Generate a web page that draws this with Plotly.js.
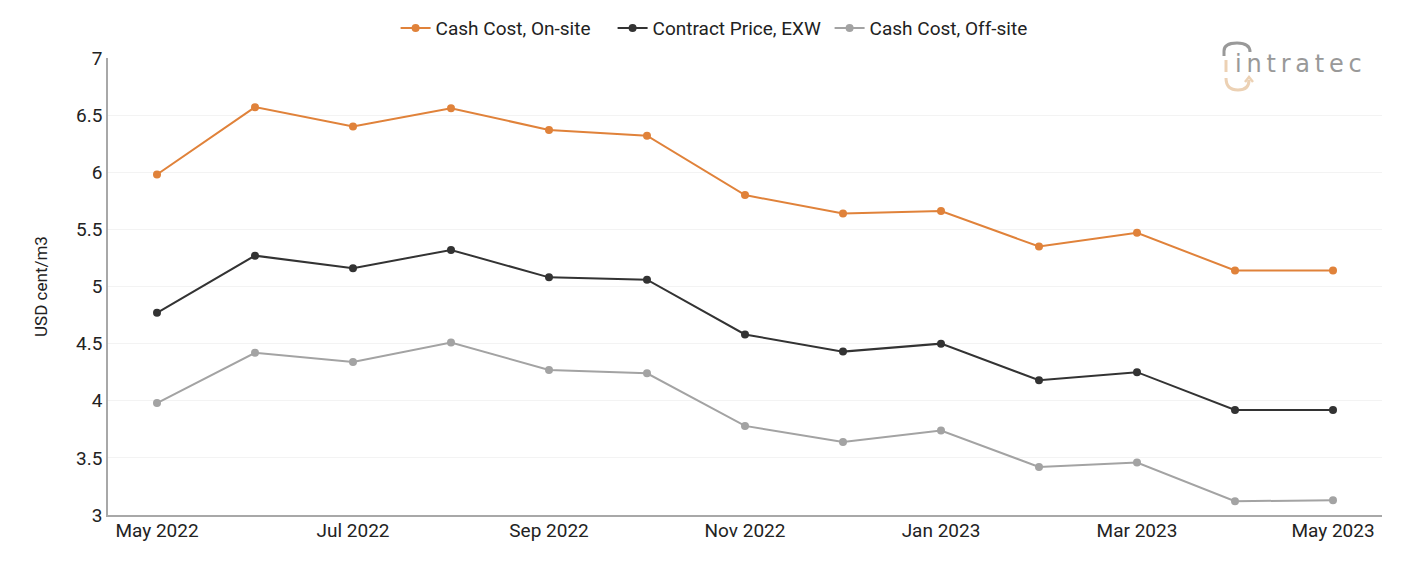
<!DOCTYPE html>
<html>
<head>
<meta charset="utf-8">
<script src="https://cdn.plot.ly/plotly-3.0.1.min.js"></script>
<style>
  html, body { margin: 0; padding: 0; background: #fff; }
  #chart { width: 1401px; height: 561px; }
</style>
</head>
<body>
<div id="chart"></div>
<script>
// Monthly categories
const months = ["May 2022", "Jun 2022", "Jul 2022", "Aug 2022", "Sep 2022", "Oct 2022",
                "Nov 2022", "Dec 2022", "Jan 2023", "Feb 2023", "Mar 2023", "Apr 2023", "May 2023"];
const tickLabels = ["May 2022", "Jul 2022", "Sep 2022", "Nov 2022", "Jan 2023", "Mar 2023", "May 2023"];

// Series values, USD cent/m3
const cashCostOnsite  = [5.98, 6.57, 6.40, 6.56, 6.37, 6.32, 5.80, 5.64, 5.66, 5.35, 5.47, 5.14, 5.14];
const contractPrice   = [4.77, 5.27, 5.16, 5.32, 5.08, 5.06, 4.58, 4.43, 4.50, 4.18, 4.25, 3.92, 3.92];
const cashCostOffsite = [3.98, 4.42, 4.34, 4.51, 4.27, 4.24, 3.78, 3.64, 3.74, 3.42, 3.46, 3.12, 3.13];

const FONT = "Roboto, 'Noto Sans', sans-serif";
const W = 1401, H = 561;
const M = { l: 108, r: 19, t: 58, b: 46, autoexpand: false };

// pixel -> paper helpers for the brand mark
const px = x => (x - M.l) / (W - M.l - M.r);
const py = y => (H - M.b - y) / (H - M.t - M.b);

function series(name, y, color) {
  return {
    type: "scatter", mode: "lines+markers", name: name,
    x: months, y: y,
    line: { color: color, width: 2 },
    marker: { color: color, size: 8 },
    hoverinfo: "x+y+name"
  };
}

const data = [
  series("Cash Cost, On-site", cashCostOnsite, "#e0823a"),
  series("Contract Price, EXW", contractPrice, "#333333"),
  series("Cash Cost, Off-site", cashCostOffsite, "#a3a3a3")
];

const GRAY = "#999999", TAN = "#ecd1b4";
const THIN = "\u2009";
const brand = "intratec".split("").join(THIN);

function path(d, color, width) {
  return { type: "path", xref: "paper", yref: "paper", path: d, line: { color: color, width: width } };
}

const layout = {
  width: W, height: H,
  margin: M,
  paper_bgcolor: "#ffffff", plot_bgcolor: "#ffffff",
  font: { family: FONT, size: 19, color: "#222222" },
  showlegend: true,
  legend: {
    orientation: "h", x: 0.5147, xanchor: "center", xref: "container",
    y: 1.024, yanchor: "bottom", yref: "paper",
    font: { family: FONT, size: 19, color: "#222222" },
    entrywidth: 172, entrywidthmode: "pixels",
    itemwidth: 30, tracegroupgap: 0
  },
  xaxis: {
    type: "category",
    range: [-0.5, months.length - 0.5],
    tickmode: "array", tickvals: tickLabels, ticktext: tickLabels,
    showgrid: false, zeroline: false,
    showline: true, linecolor: "#a8a8a8", linewidth: 1.5,
    ticks: "", ticklen: 0, ticklabelstandoff: -3,
    tickfont: { family: FONT, size: 19, color: "#222222" }
  },
  yaxis: {
    range: [3, 7], dtick: 0.5, tick0: 3,
    showgrid: true, gridcolor: "#f3f3f3", gridwidth: 1,
    zeroline: false,
    showline: true, linecolor: "#a8a8a8", linewidth: 1.5,
    ticks: "", ticklen: 0,
    tickfont: { family: FONT, size: 19, color: "#222222" },
    title: { text: "USD cent/m3", font: { family: FONT, size: 17, color: "#222222" }, standoff: 24 }
  },
  annotations: [
    {
      text: brand, xref: "paper", yref: "paper", x: px(1364), y: py(64),
      xanchor: "right", yanchor: "middle", showarrow: false,
      font: { family: "'DejaVu Sans', sans-serif", size: 24, color: GRAY }
    }
  ],
  shapes: [
    // grey arch over the i
    path(`M ${px(1224)} ${py(56)} L ${px(1224)} ${py(51)} Q ${px(1224)} ${py(43)} ${px(1237)} ${py(43)} Q ${px(1250)} ${py(43)} ${px(1250)} ${py(52)}`, GRAY, 3),
    // tan stem
    path(`M ${px(1226)} ${py(60)} L ${px(1226)} ${py(72)}`, TAN, 3),
    // tan cup with arrow tip
    path(`M ${px(1226)} ${py(78)} Q ${px(1226)} ${py(90)} ${px(1238)} ${py(90)} Q ${px(1249)} ${py(90)} ${px(1249)} ${py(80)}`, TAN, 3),
    path(`M ${px(1245)} ${py(82)} L ${px(1249)} ${py(77)} L ${px(1253)} ${py(82)}`, TAN, 2.5)
  ]
};

Plotly.newPlot("chart", data, layout, { displayModeBar: false });
</script>
</body>
</html>
